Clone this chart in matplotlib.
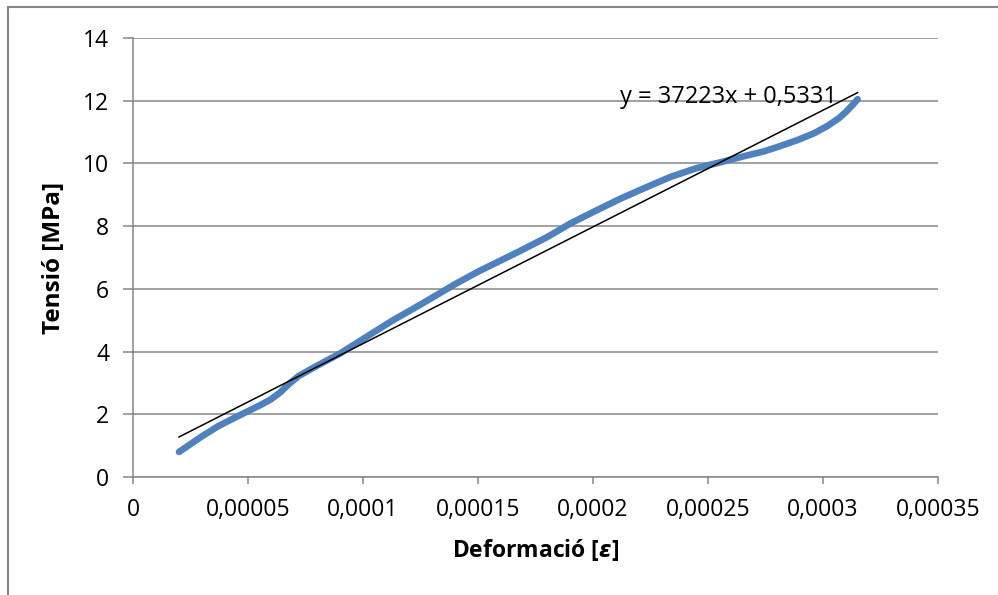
import matplotlib
matplotlib.use("Agg")
import matplotlib.pyplot as plt
from matplotlib.lines import Line2D
from matplotlib.ticker import FuncFormatter, MultipleLocator

plt.rcParams["font.family"] = ["Open Sans", "DejaVu Sans"]

# strain / stress values
strain = [2.0e-5, 3.0e-5, 3.7e-5, 4.5e-5, 5.5e-5, 6.0e-5, 6.4e-5, 6.8e-5,
          7.2e-5, 8.0e-5, 9.0e-5, 10.0e-5, 11.3e-5, 12.5e-5, 14.0e-5, 15.0e-5,
          16.8e-5, 18.0e-5, 19.0e-5, 20.0e-5, 21.2e-5, 22.5e-5, 23.4e-5, 24.5e-5,
          25.5e-5, 26.5e-5, 27.4e-5, 28.0e-5, 28.9e-5, 29.6e-5, 30.2e-5, 30.7e-5,
          31.0e-5, 31.3e-5, 31.5e-5]
stress = [0.80, 1.30, 1.62, 1.92, 2.28, 2.48, 2.70, 2.98,
          3.22, 3.55, 3.94, 4.40, 5.00, 5.50, 6.15, 6.55,
          7.20, 7.65, 8.08, 8.45, 8.88, 9.30, 9.58, 9.85,
          10.03, 10.22, 10.38, 10.52, 10.75, 10.96, 11.20, 11.45,
          11.65, 11.88, 12.05]

# linear trendline as printed on the chart
slope = 37223
intercept = 0.5331
trend_x = [strain[0], strain[-1]]
trend_y = [slope * v + intercept for v in trend_x]

GRID = "#868686"
BLUE = "#4F81BD"


def comma_fmt(v, pos):
    s = f"{v:.5f}".rstrip("0").rstrip(".")
    return s.replace(".", ",")


fig = plt.figure(figsize=(9.98, 5.95), dpi=100)
ax = fig.add_axes([0.1333, 0.1983, 0.8067, 0.7378])

ax.plot(strain, stress, color=BLUE, lw=4.8, solid_capstyle="round",
        solid_joinstyle="round", zorder=3)
ax.plot(trend_x, trend_y, color="black", lw=1.1, zorder=4)

ax.set_xlim(0, 0.00035)
ax.set_ylim(0, 14)
ax.xaxis.set_major_locator(MultipleLocator(0.00005))
ax.yaxis.set_major_locator(MultipleLocator(2))
ax.xaxis.set_major_formatter(FuncFormatter(comma_fmt))

ax.grid(axis="y", color=GRID, lw=1.1)
ax.set_axisbelow(True)
for side in ("top", "right"):
    ax.spines[side].set_visible(False)
for side in ("left", "bottom"):
    ax.spines[side].set_color(GRID)
    ax.spines[side].set_linewidth(1.1)

ax.tick_params(axis="y", length=7.2, width=1.1, color=GRID, pad=10, labelsize=16.5)
ax.tick_params(axis="x", length=4.8, width=1.1, color=GRID, pad=10, labelsize=16.5)

ax.set_ylabel("Tensió [MPa]", fontsize=17.5, fontweight="bold", labelpad=12)
ax.set_xlabel("Deformació [$\\mathbfit{\\varepsilon}$]", fontsize=16.5,
              fontweight="bold", labelpad=11)

ax.text(0.0002115, 11.93, "y = 37223x + 0,5331", fontsize=17, ha="left",
        va="baseline", zorder=5)

# chart frame
fig.add_artist(Line2D([8 / 998, 8 / 998], [0, 1 - 7 / 595],
                      transform=fig.transFigure, color=GRID, lw=1.5))
fig.add_artist(Line2D([8 / 998, 1], [1 - 7 / 595, 1 - 7 / 595],
                      transform=fig.transFigure, color=GRID, lw=1.5))

fig.savefig("out.png", dpi=100, facecolor="white")
